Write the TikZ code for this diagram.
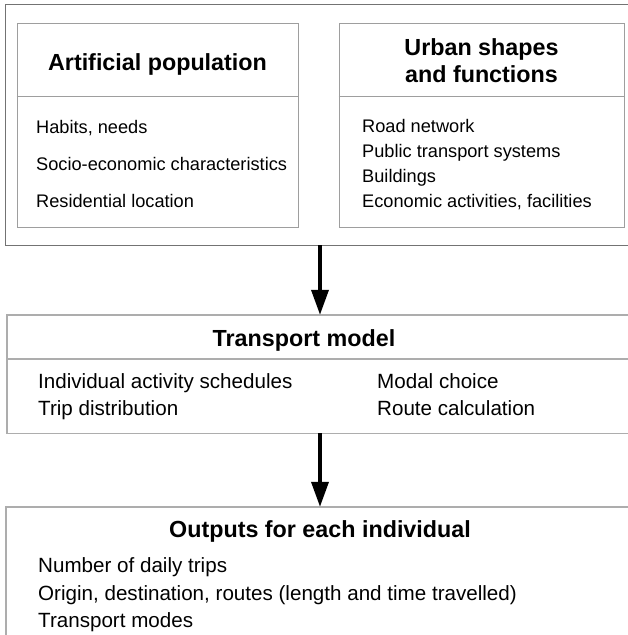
\documentclass[tikz,border=0pt]{standalone}
\usepackage{fontspec}
\setmainfont{Liberation Sans}
\usetikzlibrary{arrows.meta}
\tikzset{
  outerline/.style={draw=black!55, line width=1pt},
  innerbox/.style={draw=black!38, line width=1pt, rectangle, inner sep=0pt},
  bandline/.style={draw=black!32, line width=1.4pt},
  ghost/.style={rectangle, inner sep=0pt},
  title/.style={font=\fontsize{23.3}{27}\selectfont\bfseries, inner sep=0pt, anchor=base},
  item/.style={font=\fontsize{18.2}{22}\selectfont, inner sep=0pt, anchor=base west},
  bigitem/.style={font=\fontsize{20.6}{24}\selectfont, inner sep=0pt, anchor=base west},
  flow/.style={line width=3.6pt, -{Triangle[width=17pt,length=25pt]}, black}
}
\begin{document}
\begin{tikzpicture}[x=1pt, y=-1pt]
\useasboundingbox (0,0) rectangle (628,635);
% outer top frame (open on the right)
\node[ghost, minimum width=628pt, minimum height=240pt] (top) at (320,125) {};
\draw[outerline] (top.north east) -- (top.north west) -- (top.south west) -- (top.south east);
% inner boxes
\node[innerbox, minimum width=281pt, minimum height=204pt] (ap) at (157.5,125) {};
\draw[innerbox] (ap.west |- 0,96) -- (ap.east |- 0,96);
\node[innerbox, minimum width=285pt, minimum height=204pt] (us) at (481.5,125) {};
\draw[innerbox] (us.west |- 0,96) -- (us.east |- 0,96);
\node[title] (apt) at (157.5,70) {Artificial population};
\node[title] (ust1) at (481.5,55) {Urban shapes};
\node[title] (ust2) at (481.5,82) {and functions};
\node[item] (ap1) at (36,133) {Habits, needs};
\node[item] (ap2) at (36,170) {Socio-economic characteristics};
\node[item] (ap3) at (36,207) {Residential location};
\node[item] (us1) at (362,132) {Road network};
\node[item] (us2) at (362,157) {Public transport systems};
\node[item] (us3) at (362,182) {Buildings};
\node[item] (us4) at (362,207) {Economic activities, facilities};
% transport model band
\node[ghost, minimum width=626pt, minimum height=118pt] (tm) at (320,374) {};
\draw[bandline] (tm.north east) -- (tm.north west) -- (tm.south west) -- (tm.south east);
\draw[bandline] (tm.west |- 0,359) -- (tm.east |- 0,359);
\node[title] (tmt) at (304,346) {Transport model};
\node[bigitem] (tm1) at (38,388) {Individual activity schedules};
\node[bigitem] (tm2) at (38,415) {Trip distribution};
\node[bigitem] (tm3) at (377,388) {Modal choice};
\node[bigitem] (tm4) at (377,415) {Route calculation};
% outputs band
\node[ghost, minimum width=628pt, minimum height=140pt] (out) at (320,577) {};
\draw[bandline] (out.north east) -- (out.north west) -- (out.south west);
\node[title] (outt) at (320,537) {Outputs for each individual};
\node[bigitem] (o1) at (38,572) {Number of daily trips};
\node[bigitem] (o2) at (38,600) {Origin, destination, routes (length and time travelled)};
\node[bigitem] (o3) at (38,627) {Transport modes};
% arrows
\draw[flow] (top.south) -- (tm.north);
\draw[flow] (tm.south) -- (out.north);
\end{tikzpicture}
\end{document}
